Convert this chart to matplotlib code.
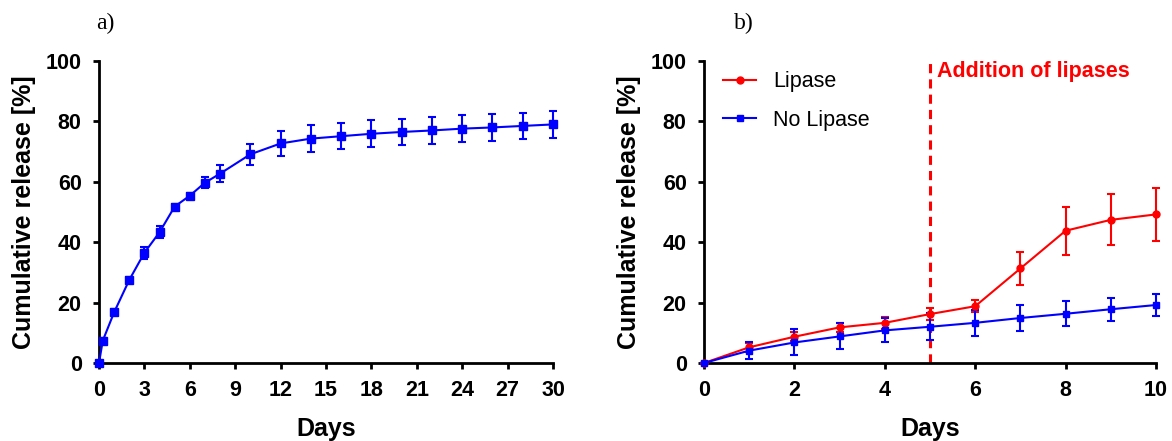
import matplotlib
matplotlib.use("Agg")
import matplotlib.pyplot as plt

plt.rcParams['font.family'] = ['Liberation Sans', 'DejaVu Sans']

# panel a) - release over 30 days
days_a = [0, 0.25, 1, 2, 3, 4, 5, 6, 7, 8, 10, 12, 14, 16, 18, 20, 22, 24, 26, 28, 30]
release_a = [0, 7.4, 16.8, 27.5, 36.5, 43.3, 51.8, 55.4, 59.7, 62.7, 69.1, 72.7,
             74.3, 75.1, 75.9, 76.5, 77.0, 77.6, 78.0, 78.5, 79.0]
err_a = [0, 1.0, 1.0, 1.0, 1.9, 1.9, 1.0, 1.0, 1.9, 2.8, 3.5, 4.1,
         4.4, 4.4, 4.4, 4.4, 4.4, 4.4, 4.4, 4.4, 4.4]

# panel b) - lipase vs no lipase
days_b = [0, 1, 2, 3, 4, 5, 6, 7, 8, 9, 10]
lipase = [0, 5.2, 8.7, 11.8, 13.3, 16.2, 18.8, 31.3, 43.8, 47.4, 49.2]
lipase_err = [0, 1.5, 1.5, 1.5, 2.0, 2.0, 2.0, 5.5, 8.0, 8.4, 8.8]
no_lipase = [0, 4.1, 6.8, 8.8, 10.8, 12.0, 13.3, 14.9, 16.3, 17.8, 19.2]
no_lipase_err = [0, 2.7, 4.3, 4.3, 4.0, 4.4, 4.3, 4.2, 4.1, 3.8, 3.7]
lipase_day = 5

fig = plt.figure(figsize=(11.72, 4.41), dpi=100)
ax1 = fig.add_axes([99/1172, 1-363/441, 454/1172, 302/441])
ax2 = fig.add_axes([704/1172, 1-363/441, 452/1172, 302/441])

blue = '#0000FF'
red = '#FF0000'

ax1.errorbar(days_a, release_a, yerr=err_a, color=blue, marker='s', markersize=6,
             lw=1.5, capsize=3, elinewidth=1.5, capthick=1.5, clip_on=False, zorder=3)

ax2.errorbar(days_b, lipase, yerr=lipase_err, color=red, marker='o', markersize=5,
             lw=1.5, capsize=3, elinewidth=1.5, capthick=1.5, clip_on=False, zorder=3,
             label='Lipase')
ax2.errorbar(days_b, no_lipase, yerr=no_lipase_err, color=blue, marker='s', markersize=5,
             lw=1.5, capsize=3, elinewidth=1.5, capthick=1.5, clip_on=False, zorder=3,
             label='No Lipase')
ax2.axvline(lipase_day, ymin=0, ymax=1, color=red, ls=(0, (3, 2)), lw=2.2)
ax2.text(lipase_day + 0.15, 96.5, 'Addition of lipases', color=red, fontsize=15.5,
         fontweight='bold', va='center', ha='left')

handles, labels = ax2.get_legend_handles_labels()
handles = [h[0] for h in handles]
ax2.legend(handles, labels, loc='upper left', bbox_to_anchor=(0.0, 1.03), frameon=False,
           fontsize=15.5, handlelength=1.5, labelspacing=0.8, handletextpad=0.8)

for ax in (ax1, ax2):
    ax.set_ylim(0, 100)
    ax.set_yticks([0, 20, 40, 60, 80, 100])
    for s in ('top', 'right'):
        ax.spines[s].set_visible(False)
    for s in ('left', 'bottom'):
        ax.spines[s].set_linewidth(2.0)
    ax.tick_params(width=2.0, length=4.5, labelsize=15.5, pad=8)
    ax.set_xlabel('Days', fontsize=18, fontweight='bold')
    ax.set_ylabel('Cumulative release [%]', fontsize=18, fontweight='bold')

ax1.set_xlim(0, 30)
ax1.set_xticks(range(0, 31, 3))
ax2.set_xlim(0, 10)
ax2.set_xticks(range(0, 11, 2))
for ax in (ax1, ax2):
    for lab in ax.get_xticklabels() + ax.get_yticklabels():
        lab.set_fontweight('bold')
    ax.xaxis.set_label_coords(0.5, -(417 - 363) / 302)
ax1.yaxis.set_label_coords(-(99 - 36) / 454, 0.5)
ax2.yaxis.set_label_coords(-(704 - 641) / 452, 0.5)

fig.text(105/1172, 1-23/441, 'a)', family='Liberation Serif', fontsize=17, ha='center', va='center')
fig.text(744/1172, 1-23/441, 'b)', family='Liberation Serif', fontsize=17, ha='center', va='center')

fig.savefig('out.png', dpi=100)
